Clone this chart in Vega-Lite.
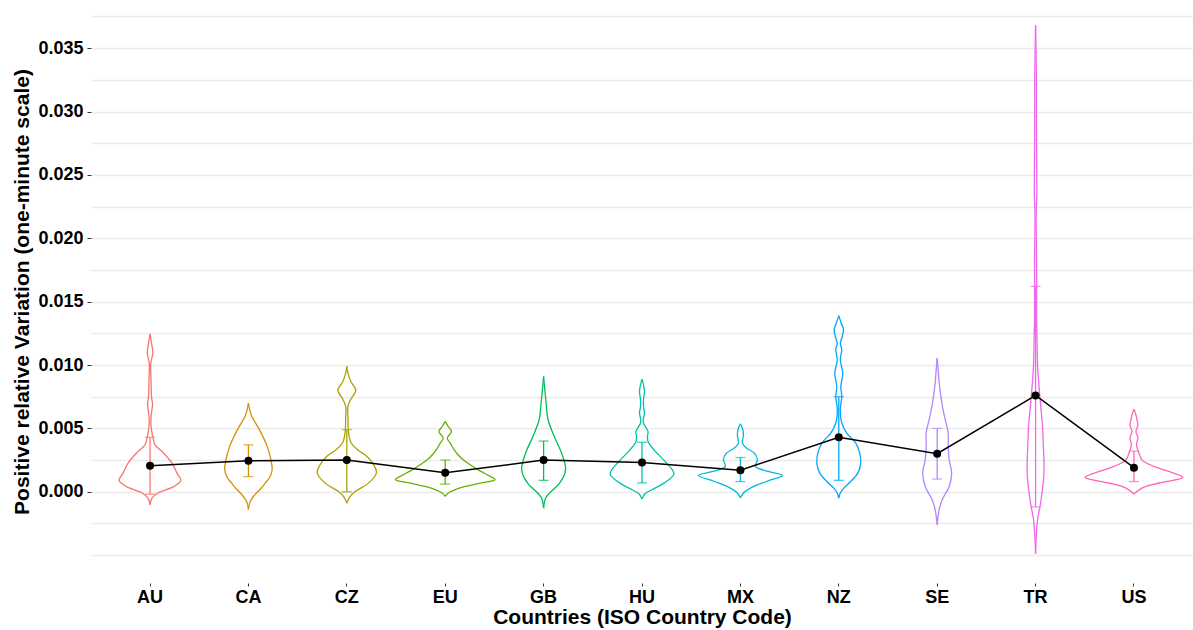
{
  "$schema": "https://vega.github.io/schema/vega-lite/v6.json",
  "width": 1102,
  "height": 583,
  "autosize": {"type": "none"},
  "padding": {"left": 91, "top": 0, "right": 0, "bottom": 47},
  "background": "white",
  "config": {
    "view": {"stroke": null},
    "font": "Liberation Sans",
    "axis": {"labelFont": "Liberation Sans", "titleFont": "Liberation Sans"}
  },
  "datasets": {
    "violin": [
      {"c":"AU","v":0.01246,"w":0},{"c":"AU","v":0.01172,"w":0.015},{"c":"AU","v":0.01094,"w":0.028},{"c":"AU","v":0.01015,"w":0.008},{"c":"AU","v":0.00883,"w":0.01},{"c":"AU","v":0.00752,"w":0.015},{"c":"AU","v":0.00686,"w":0.025},{"c":"AU","v":0.00607,"w":0.012},{"c":"AU","v":0.00542,"w":0.008},{"c":"AU","v":0.00463,"w":0.02},{"c":"AU","v":0.00423,"w":0.03},{"c":"AU","v":0.0037,"w":0.05},{"c":"AU","v":0.0031,"w":0.13},{"c":"AU","v":0.00226,"w":0.22},{"c":"AU","v":0.00147,"w":0.27},{"c":"AU","v":0.00089,"w":0.31},{"c":"AU","v":0.00042,"w":0.24},{"c":"AU","v":-0.0001,"w":0.08},{"c":"AU","v":-0.0005,"w":0.02},{"c":"AU","v":-0.00103,"w":0},
      {"c":"CA","v":0.0070,"w":0},{"c":"CA","v":0.0064,"w":0.015},{"c":"CA","v":0.0059,"w":0.037},{"c":"CA","v":0.0049,"w":0.11},{"c":"CA","v":0.0036,"w":0.187},{"c":"CA","v":0.0027,"w":0.22},{"c":"CA","v":0.0017,"w":0.237},{"c":"CA","v":0.0011,"w":0.21},{"c":"CA","v":0.0007,"w":0.17},{"c":"CA","v":0.0003,"w":0.13},{"c":"CA","v":-0.0001,"w":0.08},{"c":"CA","v":-0.0006,"w":0.03},{"c":"CA","v":-0.0009,"w":0.012},{"c":"CA","v":-0.0014,"w":0},
      {"c":"CZ","v":0.0099,"w":0},{"c":"CZ","v":0.0094,"w":0.01},{"c":"CZ","v":0.0087,"w":0.04},{"c":"CZ","v":0.0080,"w":0.09},{"c":"CZ","v":0.0073,"w":0.04},{"c":"CZ","v":0.0067,"w":0.01},{"c":"CZ","v":0.0058,"w":0.012},{"c":"CZ","v":0.0049,"w":0.015},{"c":"CZ","v":0.0039,"w":0.04},{"c":"CZ","v":0.0033,"w":0.11},{"c":"CZ","v":0.0028,"w":0.20},{"c":"CZ","v":0.0021,"w":0.27},{"c":"CZ","v":0.0015,"w":0.297},{"c":"CZ","v":0.0007,"w":0.22},{"c":"CZ","v":0.0000,"w":0.08},{"c":"CZ","v":-0.0004,"w":0.03},{"c":"CZ","v":-0.0009,"w":0},
      {"c":"EU","v":0.00555,"w":0},{"c":"EU","v":0.00515,"w":0.03},{"c":"EU","v":0.00476,"w":0.063},{"c":"EU","v":0.00423,"w":0.02},{"c":"EU","v":0.00384,"w":0.05},{"c":"EU","v":0.0033,"w":0.09},{"c":"EU","v":0.0029,"w":0.13},{"c":"EU","v":0.00252,"w":0.18},{"c":"EU","v":0.00213,"w":0.25},{"c":"EU","v":0.00173,"w":0.33},{"c":"EU","v":0.00134,"w":0.42},{"c":"EU","v":0.00095,"w":0.50},{"c":"EU","v":0.00068,"w":0.35},{"c":"EU","v":0.00042,"w":0.20},{"c":"EU","v":0.00016,"w":0.10},{"c":"EU","v":-0.0001,"w":0.03},{"c":"EU","v":-0.00037,"w":0},
      {"c":"GB","v":0.00909,"w":0},{"c":"GB","v":0.00804,"w":0.012},{"c":"GB","v":0.007,"w":0.025},{"c":"GB","v":0.00568,"w":0.045},{"c":"GB","v":0.00436,"w":0.107},{"c":"GB","v":0.00305,"w":0.18},{"c":"GB","v":0.00173,"w":0.22},{"c":"GB","v":0.00068,"w":0.16},{"c":"GB","v":-0.0001,"w":0.06},{"c":"GB","v":-0.0005,"w":0.02},{"c":"GB","v":-0.00129,"w":0},
      {"c":"HU","v":0.00889,"w":0},{"c":"HU","v":0.00844,"w":0.015},{"c":"HU","v":0.00791,"w":0.025},{"c":"HU","v":0.00726,"w":0.015},{"c":"HU","v":0.00673,"w":0.015},{"c":"HU","v":0.0062,"w":0.025},{"c":"HU","v":0.00568,"w":0.012},{"c":"HU","v":0.0054,"w":0.015},{"c":"HU","v":0.00476,"w":0.06},{"c":"HU","v":0.00436,"w":0.055},{"c":"HU","v":0.00397,"w":0.06},{"c":"HU","v":0.00331,"w":0.12},{"c":"HU","v":0.00239,"w":0.23},{"c":"HU","v":0.00142,"w":0.32},{"c":"HU","v":0.00068,"w":0.22},{"c":"HU","v":0.00016,"w":0.10},{"c":"HU","v":-0.00016,"w":0.03},{"c":"HU","v":-0.00058,"w":0},
      {"c":"MX","v":0.00536,"w":0},{"c":"MX","v":0.00489,"w":0.025},{"c":"MX","v":0.00442,"w":0.03},{"c":"MX","v":0.00384,"w":0.02},{"c":"MX","v":0.00345,"w":0.06},{"c":"MX","v":0.00305,"w":0.14},{"c":"MX","v":0.00252,"w":0.17},{"c":"MX","v":0.002,"w":0.15},{"c":"MX","v":0.0016,"w":0.28},{"c":"MX","v":0.00129,"w":0.42},{"c":"MX","v":0.00081,"w":0.26},{"c":"MX","v":0.00029,"w":0.10},{"c":"MX","v":-0.0001,"w":0.03},{"c":"MX","v":-0.0005,"w":0},
      {"c":"NZ","v":0.01388,"w":0},{"c":"NZ","v":0.0133,"w":0.025},{"c":"NZ","v":0.01278,"w":0.047},{"c":"NZ","v":0.01212,"w":0.03},{"c":"NZ","v":0.01173,"w":0.015},{"c":"NZ","v":0.0112,"w":0.03},{"c":"NZ","v":0.01041,"w":0.015},{"c":"NZ","v":0.00936,"w":0.04},{"c":"NZ","v":0.0083,"w":0.02},{"c":"NZ","v":0.00752,"w":0.03},{"c":"NZ","v":0.00647,"w":0.015},{"c":"NZ","v":0.00542,"w":0.03},{"c":"NZ","v":0.00463,"w":0.08},{"c":"NZ","v":0.00384,"w":0.17},{"c":"NZ","v":0.00305,"w":0.21},{"c":"NZ","v":0.00226,"w":0.22},{"c":"NZ","v":0.00147,"w":0.19},{"c":"NZ","v":0.00081,"w":0.12},{"c":"NZ","v":0.00029,"w":0.05},{"c":"NZ","v":-0.0001,"w":0.015},{"c":"NZ","v":-0.0005,"w":0},
      {"c":"SE","v":0.01054,"w":0},{"c":"SE","v":0.00962,"w":0.01},{"c":"SE","v":0.00857,"w":0.02},{"c":"SE","v":0.007,"w":0.047},{"c":"SE","v":0.00594,"w":0.073},{"c":"SE","v":0.00463,"w":0.11},{"c":"SE","v":0.00357,"w":0.11},{"c":"SE","v":0.00252,"w":0.12},{"c":"SE","v":0.00147,"w":0.145},{"c":"SE","v":0.00042,"w":0.12},{"c":"SE","v":-0.00063,"w":0.05},{"c":"SE","v":-0.00142,"w":0.02},{"c":"SE","v":-0.0026,"w":0},
      {"c":"TR","v":0.0368,"w":0},{"c":"TR","v":0.033,"w":0.008},{"c":"TR","v":0.0307,"w":0.008},{"c":"TR","v":0.027,"w":0.01},{"c":"TR","v":0.0233,"w":0.012},{"c":"TR","v":0.022,"w":0.006},{"c":"TR","v":0.018,"w":0.01},{"c":"TR","v":0.0136,"w":0.01},{"c":"TR","v":0.012,"w":0.015},{"c":"TR","v":0.01,"w":0.02},{"c":"TR","v":0.0078,"w":0.04},{"c":"TR","v":0.0051,"w":0.07},{"c":"TR","v":0.0032,"w":0.08},{"c":"TR","v":0.0021,"w":0.085},{"c":"TR","v":0.001,"w":0.08},{"c":"TR","v":-0.0009,"w":0.05},{"c":"TR","v":-0.0022,"w":0.02},{"c":"TR","v":-0.0031,"w":0.01},{"c":"TR","v":-0.0049,"w":0},
      {"c":"US","v":0.00652,"w":0},{"c":"US","v":0.00607,"w":0.02},{"c":"US","v":0.00568,"w":0.03},{"c":"US","v":0.00528,"w":0.04},{"c":"US","v":0.00476,"w":0.02},{"c":"US","v":0.00423,"w":0.04},{"c":"US","v":0.00371,"w":0.025},{"c":"US","v":0.00318,"w":0.045},{"c":"US","v":0.00252,"w":0.08},{"c":"US","v":0.002,"w":0.2},{"c":"US","v":0.0016,"w":0.35},{"c":"US","v":0.00113,"w":0.49},{"c":"US","v":0.00069,"w":0.25},{"c":"US","v":0.00029,"w":0.08},{"c":"US","v":-0.00018,"w":0}
    ],
    "stats": [
      {"c":"AU","mean":0.00205,"lo":-0.0002,"hi":0.0043},
      {"c":"CA","mean":0.00245,"lo":0.0012,"hi":0.0037},
      {"c":"CZ","mean":0.0025,"lo":0.0000,"hi":0.0049},
      {"c":"EU","mean":0.0015,"lo":0.0006,"hi":0.0025},
      {"c":"GB","mean":0.0025,"lo":0.0009,"hi":0.0040},
      {"c":"HU","mean":0.0023,"lo":0.0007,"hi":0.0039},
      {"c":"MX","mean":0.0017,"lo":0.0008,"hi":0.0027},
      {"c":"NZ","mean":0.0043,"lo":0.0009,"hi":0.0075},
      {"c":"SE","mean":0.0030,"lo":0.0010,"hi":0.0050},
      {"c":"TR","mean":0.0076,"lo":-0.0012,"hi":0.0162},
      {"c":"US","mean":0.0019,"lo":0.0008,"hi":0.0032}
    ]
  },
  "resolve": {"scale": {"xOffset": "independent"}},
  "layer": [
    {
      "data": {"name": "violin"},
      "mark": {"type": "line", "strokeWidth": 1.3, "interpolate": "catmull-rom"},
      "encoding": {
        "x": {"field": "c", "type": "nominal", "sort": ["AU","CA","CZ","EU","GB","HU","MX","NZ","SE","TR","US"],
              "scale": {"type": "band", "paddingInner": 0, "paddingOuter": 0.1},
              "title": "Countries (ISO Country Code)",
              "axis": {"labelAngle": 0, "labelFontSize": 18, "labelFontWeight": "bold", "labelColor": "#000000", "labelPadding": 2,
                       "tickColor": "#333333", "tickSize": 3, "domain": false, "grid": false,
                       "titleFontSize": 21, "titleFontWeight": "bold", "titleColor": "#000000", "titlePadding": 0}},
        "xOffset": {"field": "w", "type": "quantitative", "scale": {"domain": [-0.4925, 0.4925]}},
        "y": {"field": "v", "type": "quantitative",
              "scale": {"domain": [-0.0072, 0.0388], "nice": false, "zero": false},
              "title": "Positive relative Variation (one-minute scale)",
              "axis": {"values": [-0.005,-0.0025,0,0.0025,0.005,0.0075,0.01,0.0125,0.015,0.0175,0.02,0.0225,0.025,0.0275,0.03,0.0325,0.035,0.0375],
                       "tickCount": 100,
                       "labelExpr": "(datum.value > -0.0001 && abs(round(datum.value*400)) % 2 == 0) ? format(datum.value, '.3f') : ''",
                       "labelFontSize": 18, "labelFontWeight": "bold", "labelColor": "#000000", "labelPadding": 4,
                       "tickSize": 4,
                       "tickColor": {"condition": {"test": "datum.value > -0.0001 && abs(round(datum.value*400)) % 2 == 0", "value": "#333333"}, "value": "transparent"},
                       "domain": false, "grid": true, "gridColor": "#EBEBEB", "gridWidth": 1.3,
                       "titleFontSize": 21, "titleFontWeight": "bold", "titleColor": "#000000", "titlePadding": 5}},
        "color": {"field": "c", "type": "nominal", "legend": null,
                  "scale": {"domain": ["AU","CA","CZ","EU","GB","HU","MX","NZ","SE","TR","US"],
                            "range": ["#F8766D","#DB8E00","#AEA200","#64B200","#00BD5C","#00C1A7","#00BADE","#00A6FF","#B385FF","#EF67EB","#FF63B6"]}},
        "order": {"field": "v", "type": "quantitative"}
      }
    },
    {
      "data": {"name": "violin"},
      "mark": {"type": "line", "strokeWidth": 1.3, "interpolate": "catmull-rom"},
      "encoding": {
        "x": {"field": "c", "type": "nominal", "sort": ["AU","CA","CZ","EU","GB","HU","MX","NZ","SE","TR","US"], "scale": {"type": "band", "paddingInner": 0, "paddingOuter": 0.1}, "title": "Countries (ISO Country Code)"},
        "xOffset": {"field": "w", "type": "quantitative", "scale": {"domain": [-0.4925, 0.4925], "reverse": true}},
        "y": {"field": "v", "type": "quantitative", "title": "Positive relative Variation (one-minute scale)"},
        "color": {"field": "c", "type": "nominal", "legend": null},
        "order": {"field": "v", "type": "quantitative"}
      }
    },
    {
      "data": {"name": "stats"},
      "mark": {"type": "rule", "strokeWidth": 1.3},
      "encoding": {
        "x": {"field": "c", "type": "nominal", "sort": ["AU","CA","CZ","EU","GB","HU","MX","NZ","SE","TR","US"], "scale": {"type": "band", "paddingInner": 0, "paddingOuter": 0.1}, "title": "Countries (ISO Country Code)"},
        "y": {"field": "lo", "type": "quantitative", "title": "Positive relative Variation (one-minute scale)"},
        "y2": {"field": "hi"},
        "color": {"field": "c", "type": "nominal", "legend": null}
      }
    },
    {
      "data": {"name": "stats"},
      "mark": {"type": "tick", "orient": "horizontal", "size": 10, "thickness": 1.3},
      "encoding": {
        "x": {"field": "c", "type": "nominal", "sort": ["AU","CA","CZ","EU","GB","HU","MX","NZ","SE","TR","US"], "scale": {"type": "band", "paddingInner": 0, "paddingOuter": 0.1}, "title": "Countries (ISO Country Code)"},
        "y": {"field": "lo", "type": "quantitative", "title": "Positive relative Variation (one-minute scale)"},
        "color": {"field": "c", "type": "nominal", "legend": null}
      }
    },
    {
      "data": {"name": "stats"},
      "mark": {"type": "tick", "orient": "horizontal", "size": 10, "thickness": 1.3},
      "encoding": {
        "x": {"field": "c", "type": "nominal", "sort": ["AU","CA","CZ","EU","GB","HU","MX","NZ","SE","TR","US"], "scale": {"type": "band", "paddingInner": 0, "paddingOuter": 0.1}, "title": "Countries (ISO Country Code)"},
        "y": {"field": "hi", "type": "quantitative", "title": "Positive relative Variation (one-minute scale)"},
        "color": {"field": "c", "type": "nominal", "legend": null}
      }
    },
    {
      "data": {"name": "stats"},
      "mark": {"type": "line", "color": "#000000", "strokeWidth": 1.5},
      "encoding": {
        "x": {"field": "c", "type": "nominal", "sort": ["AU","CA","CZ","EU","GB","HU","MX","NZ","SE","TR","US"], "scale": {"type": "band", "paddingInner": 0, "paddingOuter": 0.1}, "title": "Countries (ISO Country Code)"},
        "y": {"field": "mean", "type": "quantitative", "title": "Positive relative Variation (one-minute scale)"}
      }
    },
    {
      "data": {"name": "stats"},
      "mark": {"type": "circle", "color": "#000000", "opacity": 1, "size": 64},
      "encoding": {
        "x": {"field": "c", "type": "nominal", "sort": ["AU","CA","CZ","EU","GB","HU","MX","NZ","SE","TR","US"], "scale": {"type": "band", "paddingInner": 0, "paddingOuter": 0.1}, "title": "Countries (ISO Country Code)"},
        "y": {"field": "mean", "type": "quantitative", "title": "Positive relative Variation (one-minute scale)"}
      }
    }
  ]
}
